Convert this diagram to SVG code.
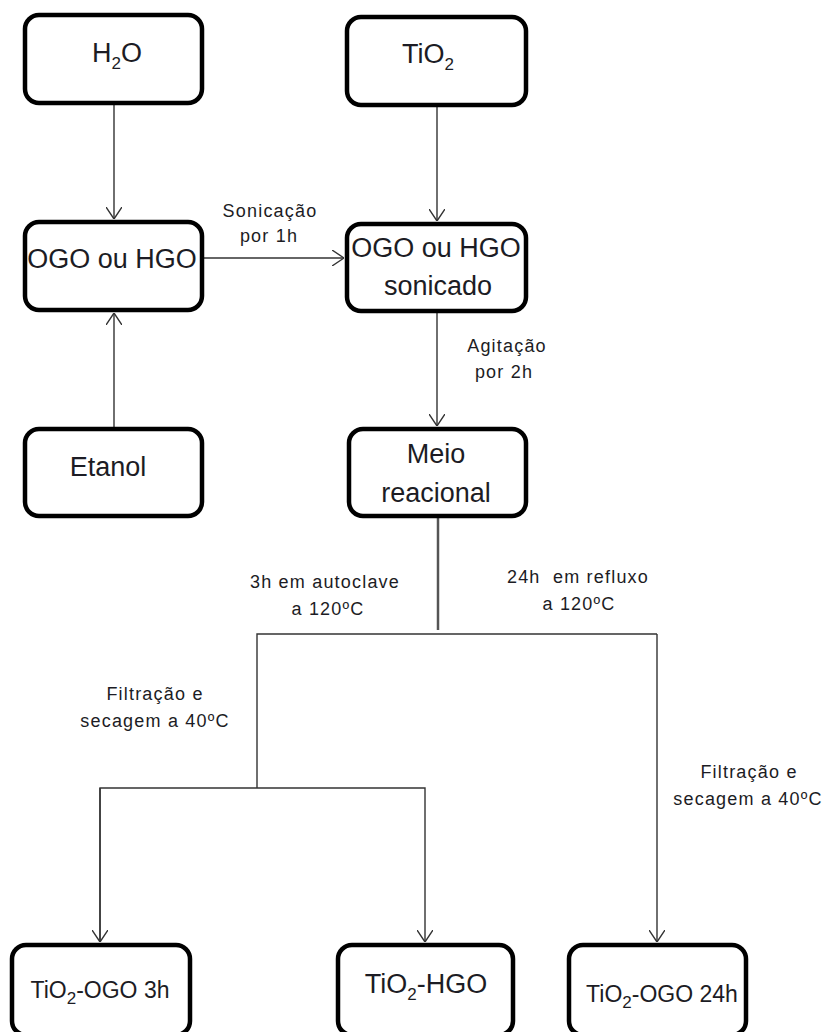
<svg xmlns="http://www.w3.org/2000/svg" width="824" height="1032" viewBox="0 0 824 1032">
<defs>
<style>
.box{fill:#fff;stroke:#000;stroke-width:4.5}
.big{font-family:"Liberation Sans",Arial,sans-serif;font-size:27px;fill:#1c1c24;text-anchor:middle}
.bot{font-family:"Liberation Sans",Arial,sans-serif;font-size:23px;fill:#1c1c24;text-anchor:middle}
.lbl{font-family:"Liberation Sans",Arial,sans-serif;font-size:18px;fill:#1c1c24;text-anchor:middle;letter-spacing:1.2px;white-space:pre}
.con{fill:none;stroke:#333;stroke-width:1.4}
.sub{font-size:17px}
</style>
<marker id="arr" viewBox="0 0 12 16" refX="12" refY="8" markerWidth="12" markerHeight="16" markerUnits="userSpaceOnUse" orient="auto">
<path d="M0,0 L12,8 L0,16" fill="none" stroke="#333" stroke-width="1.4"/>
</marker>
</defs>
<rect width="824" height="1032" fill="#fff"/>

<g id="connectors">
<line class="con" x1="114" y1="105" x2="114" y2="219" marker-end="url(#arr)"/>
<line class="con" x1="437" y1="107" x2="437" y2="221" marker-end="url(#arr)"/>
<line class="con" x1="204" y1="258" x2="344" y2="258" marker-end="url(#arr)"/>
<line class="con" x1="114" y1="427" x2="114" y2="313" marker-end="url(#arr)"/>
<line class="con" x1="437" y1="313" x2="437" y2="426" marker-end="url(#arr)"/>
<line x1="438" y1="518" x2="438" y2="630" stroke="#555" stroke-width="2.5"/>
<polyline class="con" points="257,788 257,634 657,634"/>
<line class="con" x1="657" y1="634" x2="657" y2="942" marker-end="url(#arr)"/>
<polyline class="con" points="100,942 100,788 425,788 425,942" marker-end="url(#arr)"/>
<line class="con" x1="100" y1="788" x2="100" y2="942" marker-end="url(#arr)"/>
</g>

<g id="n-h2o">
<rect class="box" x="25" y="15" width="177" height="88" rx="14"/>
<text class="big" x="117" y="62">H<tspan class="sub" dy="7">2</tspan><tspan dy="-7">O</tspan></text>
</g>
<g id="n-tio2">
<rect class="box" x="347" y="17" width="179" height="88" rx="14"/>
<text class="big" x="428" y="63">TiO<tspan class="sub" dy="7">2</tspan></text>
</g>
<g id="n-ogo">
<rect class="box" x="25" y="222" width="177" height="88" rx="14"/>
<text class="big" x="112" y="268">OGO ou HGO</text>
</g>
<g id="n-sonicado">
<rect class="box" x="347" y="224" width="179" height="87" rx="14"/>
<text class="big" x="436" y="257">OGO ou HGO</text>
<text class="big" x="438" y="295">sonicado</text>
</g>
<g id="n-etanol">
<rect class="box" x="25" y="429" width="177" height="87" rx="14"/>
<text class="big" x="108" y="476">Etanol</text>
</g>
<g id="n-meio">
<rect class="box" x="349" y="429" width="177" height="87" rx="14"/>
<text class="big" x="436" y="463">Meio</text>
<text class="big" x="436" y="502">reacional</text>
</g>
<g id="n-ogo3h">
<rect class="box" x="12" y="945" width="178" height="90" rx="14"/>
<text class="bot" x="100" y="998">TiO<tspan class="sub" font-size="15" dy="6">2</tspan><tspan dy="-6">-OGO 3h</tspan></text>
</g>
<g id="n-hgo">
<rect class="box" x="338" y="945" width="175" height="90" rx="14"/>
<text class="big" x="426" y="993">TiO<tspan class="sub" dy="7">2</tspan><tspan dy="-7">-HGO</tspan></text>
</g>
<g id="n-ogo24h">
<rect class="box" x="569" y="945" width="177" height="90" rx="14"/>
<text class="bot" x="662" y="1002">TiO<tspan class="sub" font-size="15" dy="6">2</tspan><tspan dy="-6">-OGO 24h</tspan></text>
</g>

<g id="labels">
<text class="lbl" x="270" y="217">Sonicação</text>
<text class="lbl" x="269" y="242">por 1h</text>
<text class="lbl" x="507" y="352">Agitação</text>
<text class="lbl" x="504" y="378">por 2h</text>
<text class="lbl" x="325" y="588">3h em autoclave</text>
<text class="lbl" x="328" y="615">a 120ºC</text>
<text class="lbl" x="578" y="583">24h  em refluxo</text>
<text class="lbl" x="579" y="610">a 120ºC</text>
<text class="lbl" x="155" y="700">Filtração e</text>
<text class="lbl" x="155" y="727">secagem a 40ºC</text>
<text class="lbl" x="749" y="778">Filtração e</text>
<text class="lbl" x="748" y="805">secagem a 40ºC</text>
</g>
</svg>
